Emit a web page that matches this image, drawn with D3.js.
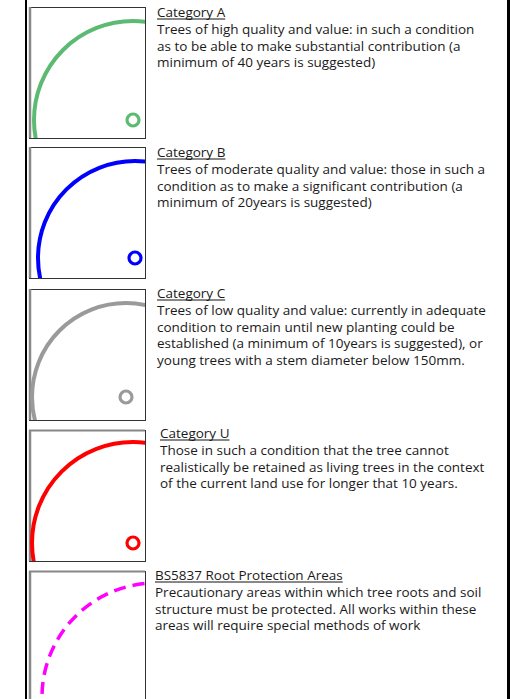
<!DOCTYPE html>
<html>
<head>
<meta charset="utf-8">
<script src="https://cdn.jsdelivr.net/npm/d3@7"></script>
<style>
  html, body { margin: 0; padding: 0; background: #fff; }
  svg { display: block; }
</style>
</head>
<body>
<div id="paper"></div>
<script>
let d3 = window.d3;

// legend content
const titles = ["Category A", "Category B", "Category C", "Category U", "BS5837 Root Protection Areas"];
const descriptions = [
  ["Trees of high quality and value: in such a condition",
   "as to be able to make substantial contribution (a",
   "minimum of 40 years is suggested)"],
  ["Trees of moderate quality and value: those in such a",
   "condition as to make a significant contribution (a",
   "minimum of 20years is suggested)"],
  ["Trees of low quality and value: currently in adequate",
   "condition to remain until new planting could be",
   "established (a minimum of 10years is suggested), or",
   "young trees with a stem diameter below 150mm."],
  ["Those in such a condition that the tree cannot",
   "realistically be retained as living trees in the context",
   "of the current land use for longer that 10 years."],
  ["Precautionary areas within which tree roots and soil",
   "structure must be protected. All works within these",
   "areas will require special methods of work"]
];
const colors = ["#5cba72", "#0000ff", "#9a9a9a", "#ff0000", "#ff00ff"];
const dashed = [false, false, false, false, true];
const hasStem = [true, true, true, true, false];

const width = 522, height = 699;

// layout of each row (box top, canopy centre offset, canopy radius, text offset)
const boxTop = [7, 147, 289, 430, 571];
const boxH = 131;
const boxX0 = 29, boxX1 = 145;
const cx = [133, 135, 126, 133, 156];
const cyOff = [113, 111, 108, 113, 126];
const rad = [99, 97, 94, 101, 114];
const headY = [17, 157, 298, 438, 580];
const textX = [157, 157, 157, 160, 155];
const lineH = 16.8;

const svg = d3.select("#paper").append("svg")
  .attr("width", width)
  .attr("height", height)
  .style("font-family", "'Century Gothic', 'URW Gothic', 'Open Sans', 'Noto Sans', sans-serif")
  .style("font-size", "13.5px");

const rows = d3.range(titles.length);

const defs = svg.append("defs");
defs.selectAll("clipPath")
  .data(rows)
  .join("clipPath")
  .attr("id", i => `clip-${i}`)
  .append("rect")
  .attr("x", boxX0)
  .attr("y", i => boxTop[i])
  .attr("width", boxX1 - boxX0)
  .attr("height", boxH);

// outer frame lines
svg.append("line")
  .attr("x1", 26).attr("x2", 26).attr("y1", 0).attr("y2", height)
  .attr("stroke", "#000").attr("stroke-width", 2);
svg.append("line")
  .attr("x1", 508.5).attr("x2", 508.5).attr("y1", 0).attr("y2", height)
  .attr("stroke", "#000").attr("stroke-width", 3);

const row = svg.selectAll("g.row")
  .data(rows)
  .join("g")
  .attr("class", "row");

// symbol box
row.append("rect")
  .attr("x", boxX0 + 0.5)
  .attr("y", i => boxTop[i] + 0.5)
  .attr("width", boxX1 - boxX0)
  .attr("height", boxH)
  .attr("fill", "#fff")
  .attr("stroke", "#333")
  .attr("stroke-width", 1);

row.append("line")
  .attr("x1", boxX0 + 1).attr("x2", boxX0 + 1)
  .attr("y1", i => boxTop[i]).attr("y2", i => boxTop[i] + boxH)
  .attr("stroke", "#888").attr("stroke-width", 2.5);

row.filter(i => i >= 3).append("line")
  .attr("x1", boxX0).attr("x2", boxX1)
  .attr("y1", i => boxTop[i] + 0.5).attr("y2", i => boxTop[i] + 0.5)
  .attr("stroke", "#888").attr("stroke-width", 2);

// canopy
row.append("circle")
  .attr("clip-path", i => `url(#clip-${i})`)
  .attr("cx", i => cx[i])
  .attr("cy", i => boxTop[i] + cyOff[i])
  .attr("r", i => rad[i])
  .attr("fill", "none")
  .attr("stroke", i => colors[i])
  .attr("stroke-width", i => dashed[i] ? 3.5 : 4)
  .attr("stroke-dasharray", i => dashed[i] ? "12,7" : null);

// stem
row.filter(i => hasStem[i]).append("circle")
  .attr("cx", i => cx[i])
  .attr("cy", i => boxTop[i] + cyOff[i])
  .attr("r", 6)
  .attr("fill", "none")
  .attr("stroke", i => colors[i])
  .attr("stroke-width", 3.2);

// heading + underline
const head = row.append("text")
  .attr("x", i => textX[i])
  .attr("y", i => headY[i])
  .attr("fill", "#1a1a1a")
  .text(i => titles[i]);

row.append("line")
  .attr("x1", i => textX[i])
  .attr("x2", i => textX[i] + head.nodes()[i].getComputedTextLength())
  .attr("y1", i => headY[i] + 2)
  .attr("y2", i => headY[i] + 2)
  .attr("stroke", "#111")
  .attr("stroke-width", 1);

// description lines
row.append("text")
  .attr("fill", "#1a1a1a")
  .selectAll("tspan")
  .data(i => descriptions[i].map((t, j) => ({i, j, t})))
  .join("tspan")
  .attr("x", d => textX[d.i])
  .attr("y", d => headY[d.i] + lineH * (d.j + 1))
  .text(d => d.t);
</script>
</body>
</html>
